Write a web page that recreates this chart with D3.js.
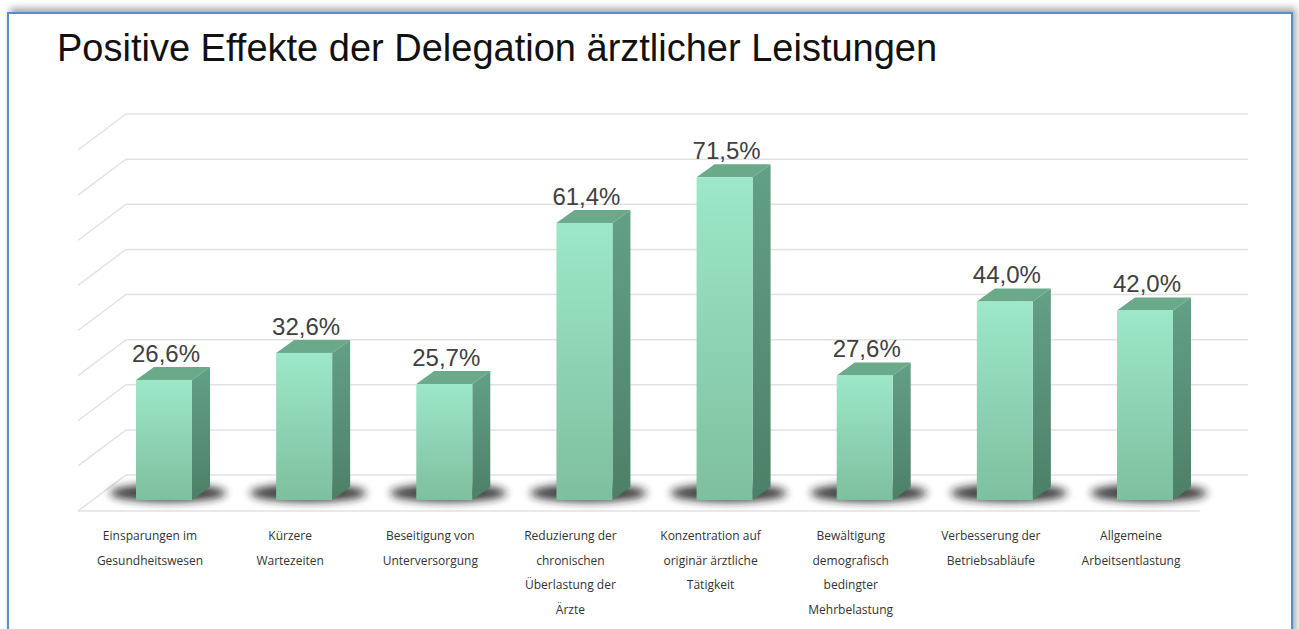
<!DOCTYPE html>
<html>
<head>
<meta charset="utf-8">
<script src="https://cdn.jsdelivr.net/npm/d3@7"></script>
<style>
  html, body { margin: 0; padding: 0; background: #fff; overflow: hidden; }
  #frame {
    position: absolute; left: 7px; top: 12px; width: 1282px; height: 640px;
    border: 2px solid #5b8bcf; box-shadow: 3px -4px 7px rgba(0,0,0,0.35);
    background: #fff;
  }
  svg { position: absolute; left: 0; top: 0; }
</style>
</head>
<body>
<div id="frame"></div>
<div id="chart"></div>
<script>
// Werte aus der Grafik
const categories = [
  ["Einsparungen im", "Gesundheitswesen"],
  ["Kürzere", "Wartezeiten"],
  ["Beseitigung von", "Unterversorgung"],
  ["Reduzierung der", "chronischen", "Überlastung der", "Ärzte"],
  ["Konzentration auf", "originär ärztliche", "Tätigkeit"],
  ["Bewältigung", "demografisch", "bedingter", "Mehrbelastung"],
  ["Verbesserung der", "Betriebsabläufe"],
  ["Allgemeine", "Arbeitsentlastung"]
];
const values = [26.6, 32.6, 25.7, 61.4, 71.5, 27.6, 44.0, 42.0];
const valueLabels = ["26,6%", "32,6%", "25,7%", "61,4%", "71,5%", "27,6%", "44,0%", "42,0%"];
const gridTicks = [0, 10, 20, 30, 40, 50, 60, 70, 80];

const width = 1299, height = 629;
const svg = d3.select("#chart").append("svg")
  .attr("width", width).attr("height", height);

const defs = svg.append("defs");
const front = defs.append("linearGradient").attr("id", "front")
  .attr("x1", 0).attr("y1", 0).attr("x2", 0).attr("y2", 1);
front.append("stop").attr("offset", "0%").attr("stop-color", "#9ce8c8");
front.append("stop").attr("offset", "100%").attr("stop-color", "#7ebf9f");
const side = defs.append("linearGradient").attr("id", "side")
  .attr("x1", 0).attr("y1", 0).attr("x2", 0).attr("y2", 1);
side.append("stop").attr("offset", "0%").attr("stop-color", "#63a085");
side.append("stop").attr("offset", "100%").attr("stop-color", "#4c8067");
defs.append("filter").attr("id", "blur")
  .attr("x", "-50%").attr("y", "-100%").attr("width", "200%").attr("height", "300%")
  .append("feGaussianBlur").attr("stdDeviation", 4);

// Skalen (Frontebene der Säulen)
const y = d3.scaleLinear().domain([0, 80]).range([500, 139]);
const x = d3.scalePoint().domain(d3.range(values.length)).range([164, 1145]);
const barW = 56;
const depth = { dx: 18, dy: -13 };      // Säulentiefe
const wall = { dx: 33, dy: -25 };       // Rückwand relativ zur Front
const sideWall = { dx: -48, dy: 36 };   // linke Wand
const wallLeft = 126, wallRight = 1248;

// Titel
svg.append("text")
  .attr("x", 57).attr("y", 61)
  .style("font-family", "'Liberation Sans', Arial, sans-serif")
  .style("font-size", "38px")
  .attr("fill", "#111")
  .text("Positive Effekte der Delegation ärztlicher Leistungen");

// Gitterlinien an Rück- und Seitenwand
const grid = svg.append("g")
  .attr("fill", "none").attr("stroke", "#e2e2e2").attr("stroke-width", 1.5);
grid.selectAll("polyline").data(gridTicks).join("polyline")
  .attr("points", d => {
    const yy = y(d) + wall.dy;
    return `${wallLeft + sideWall.dx},${yy + sideWall.dy} ${wallLeft},${yy} ${wallRight},${yy}`;
  });
// Bodenvorderkante
grid.append("line")
  .attr("x1", wallLeft + sideWall.dx).attr("x2", wallRight + sideWall.dx)
  .attr("y1", y(0) + wall.dy + sideWall.dy).attr("y2", y(0) + wall.dy + sideWall.dy);

// Schatten
svg.append("g").selectAll("ellipse").data(values).join("ellipse")
  .attr("cx", (d, i) => x(i) + 4)
  .attr("cy", y(0) - 7)
  .attr("rx", 58).attr("ry", 9)
  .attr("fill", "#1a1a1a").attr("opacity", 0.85)
  .attr("filter", "url(#blur)");

// Säulen
const bars = svg.append("g").selectAll("g").data(values).join("g");
bars.append("path")  // Oberseite
  .attr("d", (d, i) => {
    const x0 = x(i) - barW / 2, x1 = x0 + barW, t = y(d);
    return `M${x0},${t}L${x1},${t}L${x1 + depth.dx},${t + depth.dy}L${x0 + depth.dx},${t + depth.dy}Z`;
  })
  .attr("fill", "#6aa98a");
bars.append("path")  // Seite
  .attr("d", (d, i) => {
    const x1 = x(i) + barW / 2, t = y(d), b = y(0);
    return `M${x1},${t}L${x1 + depth.dx},${t + depth.dy}L${x1 + depth.dx},${b + depth.dy}L${x1},${b}Z`;
  })
  .attr("fill", "url(#side)");
bars.append("rect")  // Front
  .attr("x", (d, i) => x(i) - barW / 2)
  .attr("y", d => y(d))
  .attr("width", barW)
  .attr("height", d => y(0) - y(d))
  .attr("fill", "url(#front)");

// Wertebeschriftung
svg.append("g").selectAll("text").data(values).join("text")
  .attr("x", (d, i) => x(i) + 2)
  .attr("y", d => y(d) - 18)
  .attr("text-anchor", "middle")
  .style("font-family", "'Liberation Sans', Arial, sans-serif")
  .style("font-size", "24px")
  .attr("fill", "#404040")
  .text((d, i) => valueLabels[i]);

// Kategorien
const cat = svg.append("g").selectAll("text").data(categories).join("text")
  .attr("text-anchor", "middle")
  .style("font-family", "'Open Sans', sans-serif")
  .style("font-size", "12px")
  .attr("fill", "#333")
  .style("font-weight", 500);
cat.selectAll("tspan").data((d, i) => d.map(s => ({ s, i }))).join("tspan")
  .attr("x", d => x(d.i) - 14)
  .attr("y", (d, j) => 540 + j * 24.5)
  .text(d => d.s);
</script>
</body>
</html>
